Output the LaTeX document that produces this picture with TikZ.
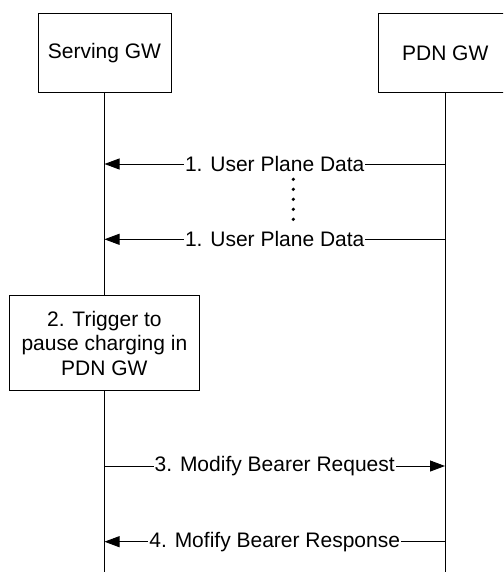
\documentclass[tikz,border=0pt]{standalone}
\usepackage{fontspec}
\setmainfont{Liberation Sans}
\usetikzlibrary{arrows.meta}
\begin{document}
\begin{tikzpicture}[x=1pt,y=-1pt,
  every node/.style={font=\fontsize{21}{24.5}\selectfont},
  entity/.style={draw,line width=0.9pt,minimum width=133pt,minimum height=79pt,anchor=north west,inner sep=0pt},
  procbox/.style={draw,line width=0.9pt,minimum width=190pt,minimum height=95pt,align=center,inner sep=0pt},
  lifeline/.style={line width=0.9pt},
  msg/.style={line width=0.9pt,-{Triangle[length=15pt,width=11pt]}},
  lbl/.style={fill=white,inner xsep=1pt,inner ysep=1pt},
  dot/.style={circle,fill,inner sep=0pt,minimum size=3.6pt}]
\useasboundingbox (0,0) rectangle (503,572);
\clip (0,0) rectangle (503,572);
\node[entity] (sgw) at (37.5,13) {Serving GW};
\node[entity] (pgw) at (378.3,13) {PDN GW};
\coordinate (sgwb) at (104.5,572);
\coordinate (pgwb) at (445,572);
\draw[lifeline] (sgw.south -| sgwb) -- (sgwb);
\draw[lifeline] (pgwb |- pgw.south) -- (pgwb);
% messages
\coordinate (s1) at (104.5,164); \coordinate (p1) at (445,164);
\draw[msg] (p1) -- node[lbl] {1. User Plane Data} (s1);
\foreach \i/\yy in {1/179.3,2/189.3,3/199.3,4/209.3,5/219.3}
  \node[dot] (d\i) at (293.3,\yy) {};
\coordinate (s2) at (104.5,239.3); \coordinate (p2) at (445,239.3);
\draw[msg] (p2) -- node[lbl] {1. User Plane Data} (s2);
\node[procbox,fill=white] (trig) at (104.4,343.2) {2. Trigger to\\pause charging in\\PDN GW};
\coordinate (s3) at (104.5,466); \coordinate (p3) at (445,466);
\draw[msg] (s3) -- node[lbl] {3. Modify Bearer Request} (p3);
\coordinate (s4) at (104.5,541.7); \coordinate (p4) at (445,541.7);
\draw[msg] (p4) -- node[lbl] {4. Mofify Bearer Response} (s4);
\end{tikzpicture}
\end{document}
